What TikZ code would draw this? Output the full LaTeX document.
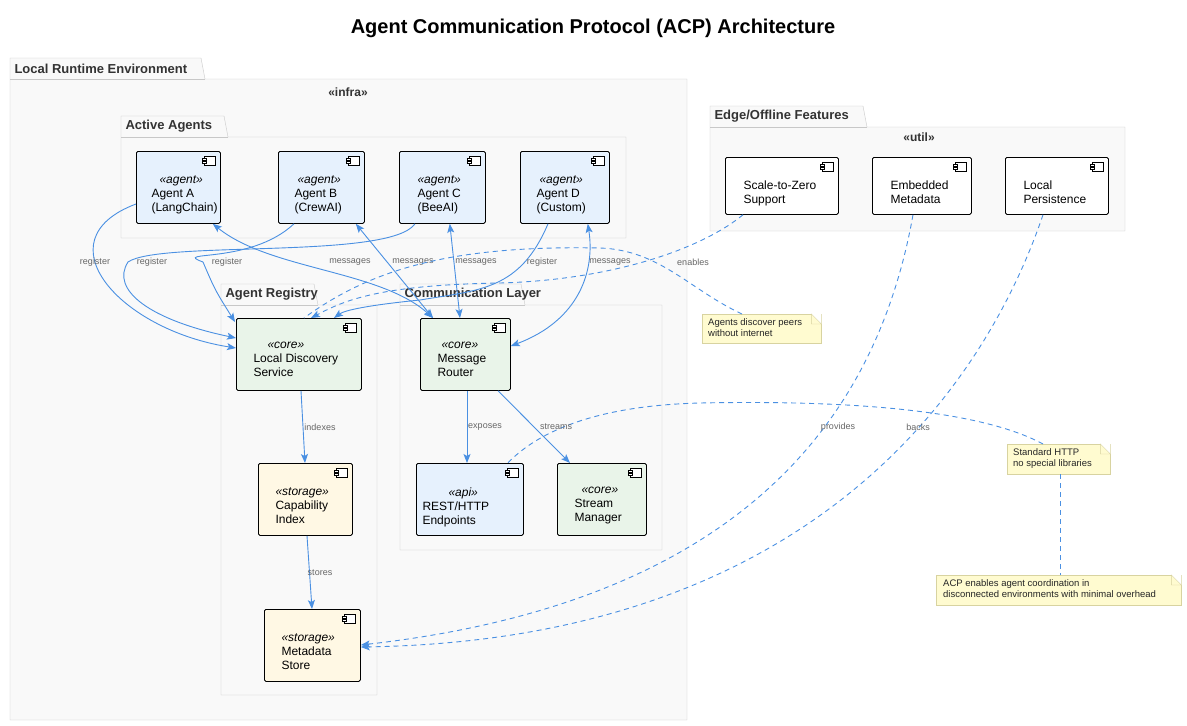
\documentclass[tikz,border=0pt]{standalone}
\usepackage{fontspec}
\setmainfont{Liberation Sans}
\usepackage{xcolor}
\usetikzlibrary{arrows.meta,positioning,calc}

\definecolor{linkblue}{HTML}{4A90E2}
\definecolor{agentfill}{HTML}{E6F1FD}
\definecolor{corefill}{HTML}{E9F4E9}
\definecolor{storefill}{HTML}{FFF8E4}
\definecolor{notefill}{HTML}{FFFBD0}
\definecolor{noteline}{HTML}{D8D3A0}
\definecolor{pkgline}{HTML}{C8C8C8}
\definecolor{pkgfill}{HTML}{F9F9F9}

\newcommand{\compicon}[1]{%
  \draw[fill=white] ([shift={(-17pt,-5pt)}]#1.north east) rectangle ++(11pt,-9pt);
  \draw[fill=white] ([shift={(-19pt,-7pt)}]#1.north east) rectangle ++(4pt,-2pt);
  \draw[fill=white] ([shift={(-19pt,-10.5pt)}]#1.north east) rectangle ++(4pt,-2pt);}
% package: tab + body
\newcommand{\pkg}[6]{%
  \draw[pkgline, fill=pkgfill] (#1,#3) -- (#1,#2) -- (#5,#2) -- ++(4,21) -- (#4,#2+21) -- (#4,#3) -- cycle;
  \draw[pkgline] (#1,#2+21) -- (#5+4,#2+21);
  \node[anchor=west, font=\fontsize{13}{15}\selectfont\bfseries, text=black!80] at (#1+1,#2+10.5) {#6};}

\begin{document}
\begin{tikzpicture}[x=1pt, y=-1pt, >={Stealth[length=9pt,width=7pt,inset=2pt]}]
    \tikzstyle{comp} = [draw, thick, rounded corners=1.5pt, align=left, anchor=north west, inner sep=0pt, font=\fontsize{12}{14}\selectfont]
    \tikzstyle{link} = [draw=linkblue, ->, line width=0.9pt]
    \tikzstyle{dep} = [draw=linkblue, ->, line width=0.9pt, dash pattern=on 5pt off 4pt]
    \tikzstyle{notelink} = [draw=linkblue, line width=0.9pt, dash pattern=on 5pt off 4pt]
    \tikzstyle{lbl} = [font=\fontsize{9}{10}\selectfont, text=black!60, inner sep=1pt]
    \tikzstyle{note} = [draw=noteline, fill=notefill, align=left, anchor=north west, inner sep=0pt, font=\fontsize{9.5}{12}\selectfont]

    \useasboundingbox (0,0) rectangle (1187,726);
    \node[font=\fontsize{20}{24}\selectfont\bfseries] (title) at (593,28) {Agent Communication Protocol (ACP) Architecture};

    % packages
    \pkg{10}{58}{720}{687}{201}{Local Runtime Environment}
    \node[font=\fontsize{12}{14}\selectfont\bfseries, text=black!80] (infra) at (348,92) {«infra»};
    \pkg{121}{116}{238}{626}{224}{Active Agents}
    \pkg{221}{284}{695}{377}{314}{Agent Registry}
    \pkg{400}{284}{550}{662}{521}{Communication Layer}
    \pkg{710}{106}{231}{1125}{863}{Edge/Offline Features}
    \node[font=\fontsize{12}{14}\selectfont\bfseries, text=black!80] (util) at (919,137) {«util»};

    % agents
    \node[comp, fill=agentfill, minimum width=84pt, minimum height=72pt] (agA) at (136,151) {};
    \node[comp, fill=agentfill, minimum width=86pt, minimum height=72pt] (agB) at (278,151) {};
    \node[comp, fill=agentfill, minimum width=86pt, minimum height=72pt] (agC) at (399,151) {};
    \node[comp, fill=agentfill, minimum width=89pt, minimum height=72pt] (agD) at (520,151) {};
    \node[align=left, anchor=north west, font=\fontsize{12}{14}\selectfont] at (148,172) {\hspace*{8pt}\textit{«agent»}\\Agent A\\(LangChain)};
    \node[align=left, anchor=north west, font=\fontsize{12}{14}\selectfont] at (291,172) {\hspace*{3pt}\textit{«agent»}\\Agent B\\(CrewAI)};
    \node[align=left, anchor=north west, font=\fontsize{12}{14}\selectfont] at (414,172) {\hspace*{0pt}\textit{«agent»}\\Agent C\\(BeeAI)};
    \node[align=left, anchor=north west, font=\fontsize{12}{14}\selectfont] at (533,172) {\hspace*{3pt}\textit{«agent»}\\Agent D\\(Custom)};

    % registry
    \node[comp, fill=corefill, minimum width=125pt, minimum height=72pt] (lds) at (236,318) {};
    \node[align=left, anchor=north west, font=\fontsize{12}{14}\selectfont] at (250,339) {\hspace*{14pt}\textit{«core»}\\Local Discovery\\Service};
    \node[comp, fill=storefill, minimum width=94pt, minimum height=72pt] (capidx) at (258,463) {};
    \node[align=left, anchor=north west, font=\fontsize{12}{14}\selectfont] at (272,484) {\textit{«storage»}\\Capability\\Index};
    \node[comp, fill=storefill, minimum width=96pt, minimum height=72pt] (metastore) at (264,609) {};
    \node[align=left, anchor=north west, font=\fontsize{12}{14}\selectfont] at (278,630) {\textit{«storage»}\\Metadata\\Store};

    % communication
    \node[comp, fill=corefill, minimum width=90pt, minimum height=72pt] (router) at (420,318) {};
    \node[align=left, anchor=north west, font=\fontsize{12}{14}\selectfont] at (434,339) {\hspace*{4pt}\textit{«core»}\\Message\\Router};
    \node[comp, fill=agentfill, minimum width=107pt, minimum height=72pt] (rest) at (416,463) {};
    \node[align=left, anchor=north west, font=\fontsize{12}{14}\selectfont] at (417,484) {\hspace*{28pt}\textit{«api»}\\\hspace*{2pt}REST/HTTP\\\hspace*{2pt}Endpoints};
    \node[comp, fill=corefill, minimum width=89pt, minimum height=72pt] (stream) at (557,463) {};
    \node[align=left, anchor=north west, font=\fontsize{12}{14}\selectfont] at (571,484) {\hspace*{7pt}\textit{«core»}\\Stream\\Manager};

    % edge features
    \node[comp, fill=white, minimum width=113pt, minimum height=57pt] (scale) at (725,157) {};
    \node[align=left, anchor=north west, font=\fontsize{12}{14}\selectfont] at (740,177) {Scale-to-Zero\\Support};
    \node[comp, fill=white, minimum width=99pt, minimum height=57pt] (embed) at (872,157) {};
    \node[align=left, anchor=north west, font=\fontsize{12}{14}\selectfont] at (887,177) {Embedded\\Metadata};
    \node[comp, fill=white, minimum width=103pt, minimum height=57pt] (persist) at (1005,157) {};
    \node[align=left, anchor=north west, font=\fontsize{12}{14}\selectfont] at (1020,177) {Local\\Persistence};

    \foreach \c in {agA,agB,agC,agD,lds,capidx,metastore,router,rest,stream,scale,embed,persist}
        {\compicon{\c}}

    % notes
    \node[note, minimum width=119pt, minimum height=29pt] (noteA) at (702,314) {};
    \node[align=left, anchor=north west, inner sep=0pt, font=\fontsize{9.5}{11}\selectfont, text=black!85] at (708,318) {Agents discover peers\\without internet};
    \node[note, minimum width=103pt, minimum height=30pt] (noteB) at (1007,444) {};
    \node[align=left, anchor=north west, inner sep=0pt, font=\fontsize{9.5}{11}\selectfont, text=black!85] at (1013,448) {Standard HTTP\\no special libraries};
    \node[note, minimum width=245pt, minimum height=30pt] (noteC) at (936,575) {};
    \node[align=left, anchor=north west, inner sep=0pt, font=\fontsize{9.5}{11}\selectfont, text=black!85] at (943,579) {ACP enables agent coordination in\\disconnected environments with minimal overhead};
    \foreach \n in {noteA,noteB,noteC}
        {\fill[white] ([xshift=-10pt]\n.north east) -- (\n.north east) -- ([yshift=-10pt]\n.north east) -- cycle;
         \draw[noteline] ([xshift=-10pt]\n.north east) -- ([xshift=-10pt,yshift=-10pt]\n.north east) -- ([yshift=-10pt]\n.north east) -- cycle;}

    % register
    \draw[link] ([yshift=-53pt]agA.north west) .. controls (40,240) and (120,330) .. ([yshift=-30pt]lds.north west);
    \draw[link] ([xshift=16pt]agB.south west) .. controls (250,265) and (170,250) .. (203,262) .. controls (215,290) .. ([xshift=-1pt,yshift=-4pt]lds.north west);
    \draw[link] ([xshift=16pt]agC.south west) .. controls (390,260) and (160,240) .. (128,262) .. controls (110,290) and (150,320) .. ([yshift=-20pt]lds.north west);
    \draw[link] ([xshift=28pt]agD.south west) .. controls (520,290) and (480,290) .. (420,300) .. controls (370,305) and (345,310) .. ([xshift=98pt]lds.north west);
    \node[lbl] at (95,262) {register};
    \node[lbl] at (152,262) {register};
    \node[lbl] at (227,262) {register};
    \node[lbl] at (542,262) {register};

    % messages
    \draw[link, <->] ([xshift=-8pt]agA.south east) .. controls (270,270) and (380,270) .. ([xshift=13pt]router.north west);
    \draw[link, <->] ([xshift=-9pt]agB.south east) -- ([xshift=13pt]router.north west);
    \draw[link, <->] ([xshift=-36pt]agC.south east) -- ([xshift=40pt]router.north west);
    \draw[link, <->] ([xshift=-22pt]agD.south east) .. controls (595,270) and (580,320) .. ([yshift=-28pt]router.north east);
    \node[lbl] at (350,262) {messages};
    \node[lbl] at (413,262) {messages};
    \node[lbl] at (476,262) {messages};
    \node[lbl] at (610,262) {messages};

    % edge/offline links
    \draw[dep] ([xshift=18pt]scale.south west) .. controls (700,250) and (610,280) .. (500,283) .. controls (380,285) and (345,300) .. ([xshift=75pt]lds.north west);
    \node[lbl] at (693,262) {enables};
    \draw[notelink] ([xshift=40pt]noteA.north west) .. controls (690,290) and (660,250) .. (600,248) .. controls (450,245) and (370,270) .. ([xshift=68pt]lds.north west);
    \draw[dep] ([xshift=41pt]embed.south west) .. controls (880,400) and (760,600) .. ([yshift=-36pt]metastore.north east);
    \node[lbl] at (838,427) {provides};
    \draw[dep] ([xshift=38pt]persist.south west) .. controls (980,400) and (800,640) .. ([yshift=-38pt]metastore.north east);
    \node[lbl] at (918,427) {backs};
    \draw[notelink] ([xshift=36pt]noteB.north west) .. controls (980,410) and (850,400) .. (700,403) .. controls (580,406) and (530,440) .. ([xshift=-16pt]rest.north east);
    \draw[notelink] ([xshift=53pt]noteB.south west) -- ([xshift=124pt]noteC.north west);

    % internal
    \draw[link] ([xshift=65pt]lds.south west) -- ([xshift=47pt]capidx.north west);
    \node[lbl] at (320,427) {indexes};
    \draw[link] ([xshift=49pt]capidx.south west) -- ([xshift=48pt]metastore.north west);
    \node[lbl] at (320,573) {stores};
    \draw[link] ([xshift=47pt]router.south west) -- ([xshift=51pt]rest.north west);
    \node[lbl] at (485,427) {exposes};
    \draw[link] ([xshift=78pt]router.south west) -- ([xshift=13pt]stream.north west);
    \node[lbl] at (556,427) {streams};
\end{tikzpicture}
\end{document}
